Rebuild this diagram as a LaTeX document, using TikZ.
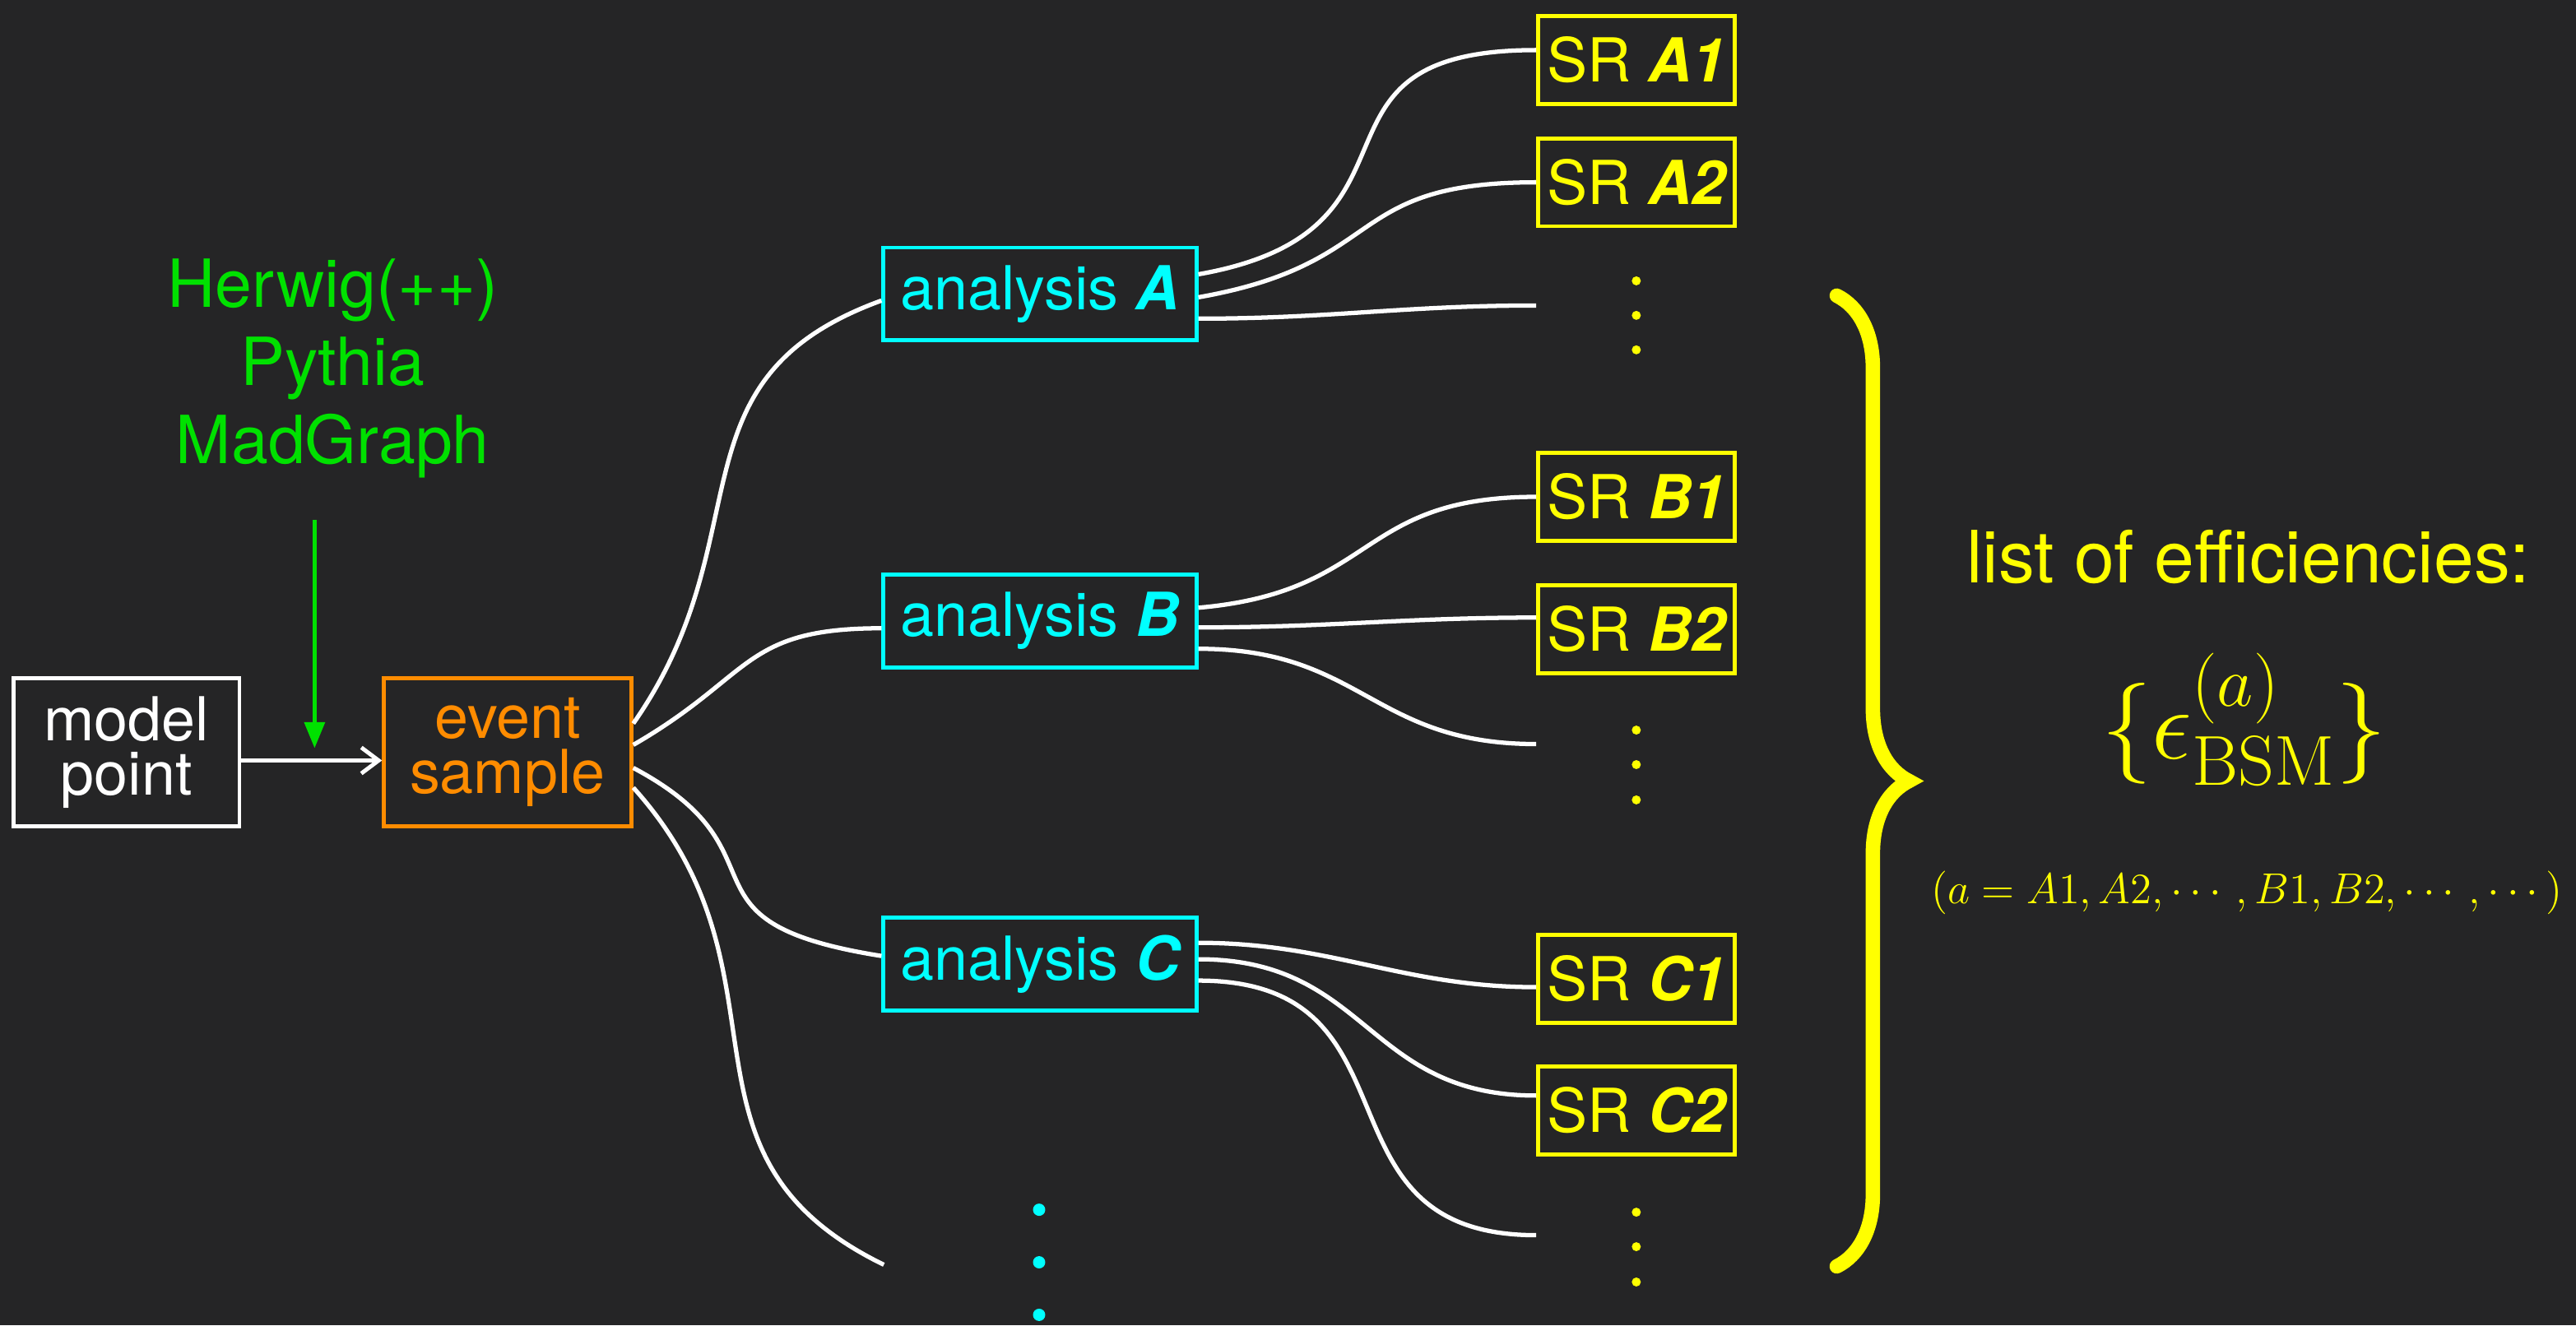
\RequirePackage{fix-cm}
\documentclass[tikz,border=0pt]{standalone}
\usepackage{fontspec}
\usepackage{amsmath}
\usetikzlibrary{arrows.meta, positioning, decorations.pathreplacing}

\newfontfamily\heros{TeX Gyre Heros}
\newcommand{\bi}[1]{{\bfseries\itshape #1}}

\definecolor{board}{RGB}{37,37,38}
\definecolor{anacol}{RGB}{0,255,255}
\definecolor{srcol}{RGB}{255,255,0}
\definecolor{evcol}{RGB}{255,140,0}
\definecolor{gencol}{RGB}{0,225,0}

\begin{document}
\begin{tikzpicture}[
  font=\heros,
  box/.style={rectangle, draw, line width=1.4pt, inner sep=0pt, align=center,
              font=\heros\fontsize{21}{19}\selectfont},
  input/.style={box, draw=white, text=white, minimum width=2.75cm, minimum height=1.81cm},
  sample/.style={box, draw=evcol, text=evcol, minimum width=3.01cm, minimum height=1.81cm},
  ana/.style={box, draw=anacol, text=anacol, minimum width=3.81cm, minimum height=1.13cm},
  sr/.style={box, draw=srcol, text=srcol, minimum width=2.39cm, minimum height=1.07cm},
  link/.style={draw=white, line width=1.5pt},
  feed/.style={white, line width=1.4pt, -{Straight Barb[length=6pt, width=9pt]}},
  genarr/.style={gencol, line width=1.3pt, -{Triangle[length=9pt, width=7pt]}},
  brace/.style={srcol, line width=5pt, line cap=round,
                decorate, decoration={brace, amplitude=0.88cm, aspect=0.5}},
  ]
  %% chalkboard
  \fill[board] (0,0) rectangle (31.36,16.14);
  \useasboundingbox (0,0) rectangle (31.36,16.14);

  %% Nodes: model point, generators, event sample
  \node[input]  (model) at (1.54, 6.98) {model\\point};
  \node[sample] (event) at (6.18, 6.98) {event\\sample};
  \node[text=gencol, align=center, anchor=north, inner sep=0pt,
        font=\heros\fontsize{23}{27.2}\selectfont] (gen) at (4.05, 13.0)
        {Herwig(++)\\Pythia\\MadGraph};
  \coordinate (gentip) at (3.83, 7.03);

  %% analyses
  \node[ana] (anaA) at (12.66, 12.56) {analysis \bi{A}};
  \node[ana] (anaB) at (12.66,  8.58) {analysis \bi{B}};
  \node[ana] (anaC) at (12.66,  4.40) {analysis \bi{C}};
  \coordinate (moreAna) at (10.76, 0.74);

  %% signal regions
  \node[sr] (srA1) at (19.92, 15.41) {SR \bi{A1}};
  \node[sr] (srA2) at (19.92, 13.92) {SR \bi{A2}};
  \node[sr] (srB1) at (19.92, 10.09) {SR \bi{B1}};
  \node[sr] (srB2) at (19.92,  8.48) {SR \bi{B2}};
  \node[sr] (srC1) at (19.92,  4.22) {SR \bi{C1}};
  \node[sr] (srC2) at (19.92,  2.62) {SR \bi{C2}};
  \coordinate (moreA) at (18.70, 12.42);
  \coordinate (moreB) at (18.70,  7.08);
  \coordinate (moreC) at (18.70,  1.10);

  %% model point -> event sample, generators feed in from above
  \draw[feed] ([yshift=-0.1cm]model.east) -- ([yshift=-0.1cm]event.west);
  \draw[genarr, shorten <=0.5cm] (gen.south -| gentip) -- (gentip);

  %% event sample -> analyses
  \draw[link] ([yshift=0.35cm]event.east)  to[out=55, in=200, looseness=1.2] ([yshift=-0.08cm]anaA.west);
  \draw[link] ([yshift=0.09cm]event.east)  to[out=30, in=180, looseness=1.3] ([yshift=-0.09cm]anaB.west);
  \draw[link] ([yshift=-0.19cm]event.east) to[out=-28, in=171, out looseness=1.5, in looseness=1.8]
              ([yshift=0.1cm]anaC.west);
  \draw[link] ([yshift=-0.43cm]event.east) to[out=-48, in=154, looseness=1.2] (moreAna);

  %% analyses -> signal regions
  \draw[link] ([yshift=0.24cm]anaA.east)  to[out=10, in=180, looseness=1.6] ([yshift=0.12cm]srA1.west);
  \draw[link] ([yshift=-0.04cm]anaA.east) to[out=10, in=180, looseness=1.4] (srA2.west);
  \draw[link] ([yshift=-0.30cm]anaA.east) to[out=0, in=180] (moreA);
  \draw[link] ([yshift=0.16cm]anaB.east)  to[out=5, in=180, looseness=1.3] (srB1.west);
  \draw[link] ([yshift=-0.08cm]anaB.east) to[out=0, in=180] ([yshift=0.14cm]srB2.west);
  \draw[link] ([yshift=-0.34cm]anaB.east) to[out=0, in=180, looseness=1.2] (moreB);
  \draw[link] ([yshift=0.26cm]anaC.east)  to[out=0, in=180] ([yshift=-0.1cm]srC1.west);
  \draw[link] ([yshift=0.06cm]anaC.east)  to[out=0, in=180, looseness=1.2] ([yshift=0.18cm]srC2.west);
  \draw[link] ([yshift=-0.20cm]anaC.east) to[out=0, in=180, looseness=1.4] (moreC);

  %% more regions / more analyses
  \foreach \y in {12.72, 12.30, 11.88, 7.25, 6.83, 6.40, 1.38, 0.96, 0.53}
    \fill[srcol] (19.92, \y) circle (0.055);
  \foreach \y in {1.41, 0.77, 0.13}
    \fill[anacol] (12.65, \y) circle (0.075);

  %% collect everything into the efficiency list
  \coordinate (bracetop) at (22.36, 12.54);
  \coordinate (bracebot) at (22.36,  0.72);
  \draw[brace] (bracetop) -- (bracebot);

  \node[text=srcol, anchor=base, inner sep=0pt, font=\heros\fontsize{25}{30}\selectfont]
        (eff) at (27.37, 9.04) {list of efficiencies:};
  \node[text=srcol, anchor=base, inner sep=0pt, font=\fontsize{35}{40}\selectfont]
        (effset) at (27.32, 6.90) {$\{\epsilon^{(a)}_{\mathrm{BSM}}\}$};
  \node[text=srcol, anchor=base, inner sep=0pt, font=\fontsize{15}{18}\selectfont]
        (effidx) at (27.35, 5.14) {$(a = A1, A2, \cdots, B1, B2, \cdots, \cdots)$};
\end{tikzpicture}
\end{document}
